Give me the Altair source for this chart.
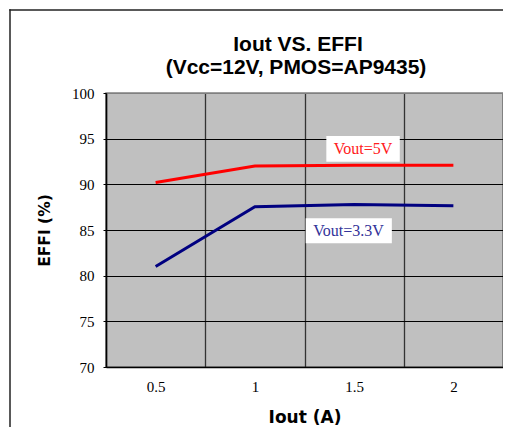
import altair as alt
import pandas as pd

iout = [0.5, 1.0, 1.5, 2.0]
eff_5v = [90.2, 92.0, 92.1, 92.1]
eff_33v = [81.0, 87.55, 87.8, 87.65]
series_names = ["Vout=5V", "Vout=3.3V"]
series_colors = ["#ff0000", "#000080"]
x_ticks = [0.5, 1, 1.5, 2]
x_grid = [0.25, 0.75, 1.25, 1.75, 2.25]
y_ticks = [70, 75, 80, 85, 90, 95, 100]
title_lines = ["Iout VS. EFFI", "(Vcc=12V, PMOS=AP9435)"]

W, H = 397, 274

rows = []
for x, v in zip(iout, eff_5v):
    rows.append({"Iout": x, "EFFI": v, "series": series_names[0]})
for x, v in zip(iout, eff_33v):
    rows.append({"Iout": x, "EFFI": v, "series": series_names[1]})
df = pd.DataFrame(rows)

xscale = alt.Scale(domain=[0.25, 2.25], nice=False, zero=False)
yscale = alt.Scale(domain=[70, 100], nice=False, zero=False)

yaxis = alt.Axis(values=y_ticks, grid=True,
                 gridColor=alt.condition("datum.value >= 100", alt.value("#808080"), alt.value("#000000")),
                 gridWidth=1,
                 domain=True, domainColor="#000000", domainWidth=1.5,
                 ticks=True, tickColor="#000000", tickSize=3,
                 labelFont="Liberation Serif", labelFontSize=15, labelColor="#000000",
                 labelPadding=9, title="EFFI (%)", titleFont="DejaVu Sans",
                 titleFontSize=15.5, titleFontWeight="bold", titleColor="#000000",
                 titleAngle=270, titleX=-62, titleY=H / 2, titleAlign="center",
                 titleBaseline="middle")

xaxis = alt.Axis(values=x_ticks, format="~g", grid=False, ticks=False, tickSize=0,
                 domain=True, domainColor="#000000", domainWidth=1.5,
                 labelFont="Liberation Serif", labelFontSize=15, labelColor="#000000",
                 labelPadding=12, labelFlush=False,
                 title="Iout (A)", titleFont="DejaVu Sans", titleFontSize=17,
                 titleFontWeight="bold", titleColor="#000000", titleX=W / 2,
                 titleY=50, titleAlign="center", titleBaseline="middle")

grid_axis = alt.Axis(values=x_grid, orient="top", grid=True, gridColor="#333333",
                     gridWidth=1.3, labels=False, ticks=False, domain=False, title="")

grid_layer = alt.Chart(df).mark_point(opacity=0).encode(
    x=alt.X("Iout:Q", scale=xscale, axis=grid_axis),
    y=alt.Y("EFFI:Q", scale=yscale, axis=yaxis),
)

lines = alt.Chart(df).mark_line(strokeWidth=3).encode(
    x=alt.X("Iout:Q", scale=xscale, axis=xaxis),
    y=alt.Y("EFFI:Q", scale=yscale, axis=yaxis),
    color=alt.Color("series:N", scale=alt.Scale(domain=series_names, range=series_colors), legend=None),
)


def dx(v):
    return alt.X(datum=v, axis=None)


def dy(v):
    return alt.Y(datum=v, axis=yaxis)


box5 = alt.Chart().mark_rect(color="white").encode(
    x=dx(1.36), x2=alt.datum(1.73), y=dy(95.29), y2=alt.datum(92.48))
txt5 = alt.Chart().mark_text(text=series_names[0], font="Liberation Serif", fontSize=16,
                             color="#ff2020").encode(x=dx(1.545), y=dy(93.87))
box33 = alt.Chart().mark_rect(color="white").encode(
    x=dx(1.256), x2=alt.datum(1.69), y=dy(86.28), y2=alt.datum(83.54))
txt33 = alt.Chart().mark_text(text=series_names[1], font="Liberation Serif", fontSize=16,
                              color="#333399").encode(x=dx(1.472), y=dy(84.89))

title1 = alt.Chart().mark_text(text=title_lines[0], font="Liberation Sans", fontSize=21,
                               fontWeight="bold", color="#000000", baseline="middle").encode(
    x=alt.value(192), y=alt.value(-48))
title2 = alt.Chart().mark_text(text=title_lines[1], font="Liberation Sans", fontSize=21,
                               fontWeight="bold", color="#000000", baseline="middle").encode(
    x=alt.value(190), y=alt.value(-25.5))

border_top = alt.Chart().mark_rect(color="#222222").encode(
    x=alt.value(-96.75), x2=alt.value(W), y=alt.value(-83.75), y2=alt.value(-82.25))
border_left = alt.Chart().mark_rect(color="#222222").encode(
    x=alt.value(-96.75), x2=alt.value(-95.25), y=alt.value(-83.75), y2=alt.value(H + 60))

chart = alt.layer(border_top, border_left, grid_layer, lines, box5, txt5, box33, txt33,
                  title1, title2).resolve_axis(
    x="independent"
).properties(
    width=W, height=H,
    autosize=alt.AutoSizeParams(type="none"),
    padding={"left": 98, "top": 85, "right": 0, "bottom": 60},
).configure(
    background="white",
    view=alt.ViewConfig(fill="#c0c0c0", stroke="#808080", strokeWidth=1.5),
)

chart.save("out.html", embed_options={"renderer": "svg", "actions": False})
